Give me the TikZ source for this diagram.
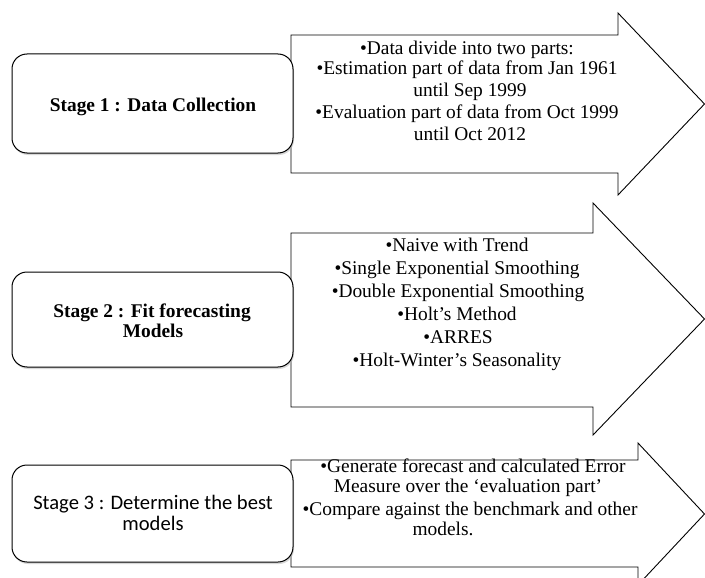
\documentclass[tikz,border=0pt]{standalone}
\usepackage{fontspec}
\setmainfont{Liberation Serif}
\newfontfamily\carlito{Carlito}
\usetikzlibrary{shadows}
\begin{document}
\begin{tikzpicture}[x=1pt,y=-1pt,
  arrowshape/.style={draw=black, line width=0.9pt, fill=white, line join=miter},
  stagebox/.style={draw=black, line width=1pt, fill=white, rounded corners=15pt,
    minimum width=281pt, inner sep=0pt,
    drop shadow={shadow xshift=1pt, shadow yshift=-2pt, fill=black!30}},
  itemtext/.style={anchor=base, inner sep=0pt, font=\fontsize{19.4}{22}\selectfont},
  stagetext/.style={anchor=base, inner sep=0pt, font=\fontsize{19.4}{22}\selectfont\bfseries},
  stagesans/.style={anchor=base, inner sep=0pt, font=\fontsize{20.6}{22}\selectfont\carlito}]
\useasboundingbox (0,0) rectangle (705,578);
\clip (0,0) rectangle (705,578);
\fill[white] (0,0) rectangle (705,578);

% arrows
\draw[arrowshape] (291,35) -- (618,35) -- (618,13) -- (704.5,104) -- (618,195) -- (618,173) -- (291,173) -- cycle;
\draw[arrowshape] (291,233) -- (593,233) -- (593,203) -- (704.5,319) -- (593,435) -- (593,407) -- (291,407) -- cycle;
\draw[arrowshape] (291,460) -- (638,460) -- (638,443) -- (704.5,514) -- (638,585) -- (638,567) -- (291,567) -- cycle;

% stage boxes
\node[stagebox, minimum height=99pt] (s1) at (152.5,103.5) {};
\node[stagebox, minimum height=95pt] (s2) at (152.5,319.5) {};
\node[stagebox, minimum height=97pt] (s3) at (152.5,513.5) {};

\node[stagetext] (s1t) at (153,111) {Stage 1 : Data Collection};
\node[stagetext] (s2t) at (152,317) {Stage 2 : Fit forecasting};
\node[stagetext] (s2u) at (153,337) {Models};
\node[stagesans] (s3t) at (153,509) {Stage 3 : Determine the best};
\node[stagesans] (s3u) at (153,530) {models};

% arrow 1 text
\node[itemtext] (a1) at (467,55) {•Data divide into two parts:};
\node[itemtext] (a2) at (467,75) {•Estimation part of data from Jan 1961};
\node[itemtext] (a3) at (470,97) {until Sep 1999};
\node[itemtext] (a4) at (467,118) {•Evaluation part of data from Oct 1999};
\node[itemtext] (a5) at (470,140) {until Oct 2012};

% arrow 2 text
\node[itemtext] (b1) at (457,251) {•Naive with Trend};
\node[itemtext] (b2) at (457,274) {•Single Exponential Smoothing};
\node[itemtext] (b3) at (458,297) {•Double Exponential Smoothing};
\node[itemtext] (b4) at (457,320) {•Holt’s Method};
\node[itemtext] (b5) at (458,343) {•ARRES};
\node[itemtext] (b6) at (457,366) {•Holt-Winter’s Seasonality};

% arrow 3 text
\node[itemtext] (c1) at (473,472) {•Generate forecast and calculated Error};
\node[itemtext] (c2) at (468,492) {Measure over the ‘evaluation part’};
\node[itemtext] (c3) at (470,515) {•Compare against the benchmark and other};
\node[itemtext] (c4) at (443,535) {models.};
\end{tikzpicture}
\end{document}
